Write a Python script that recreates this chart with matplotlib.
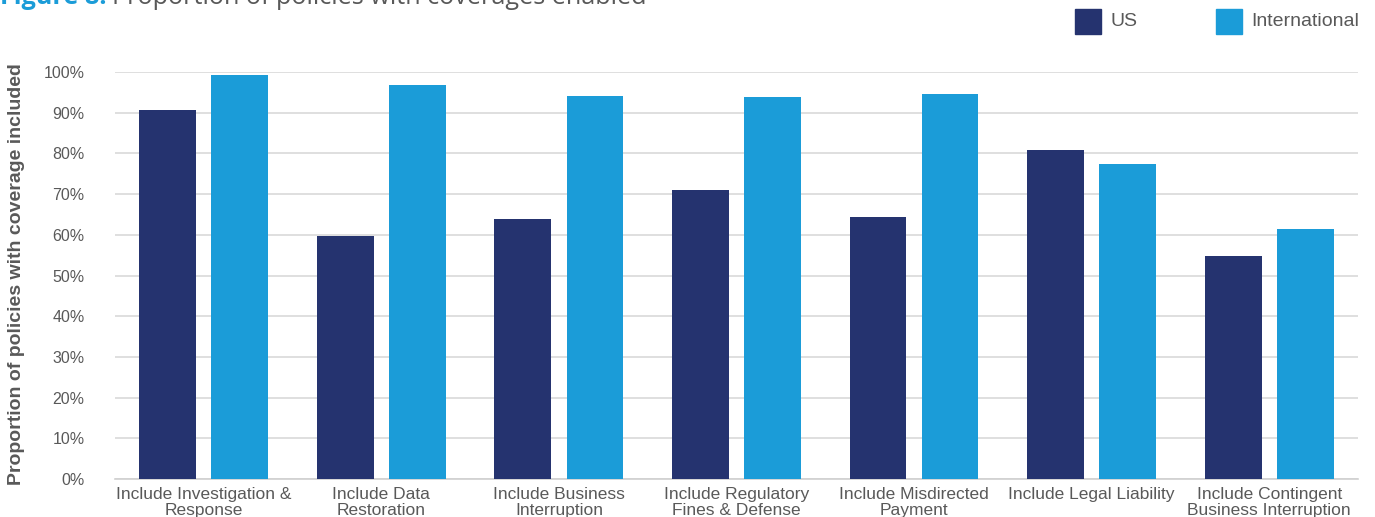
import matplotlib
matplotlib.use("Agg")
import matplotlib.pyplot as plt
import numpy as np

categories = [
    "Include Investigation &\nResponse",
    "Include Data\nRestoration",
    "Include Business\nInterruption",
    "Include Regulatory\nFines & Defense",
    "Include Misdirected\nPayment",
    "Include Legal Liability",
    "Include Contingent\nBusiness Interruption",
]
us_values = [90.6, 59.6, 63.9, 70.9, 64.3, 80.8, 54.8]
intl_values = [99.2, 96.8, 94.1, 93.9, 94.6, 77.4, 61.4]
series_names = ["US", "International"]
y_ticks = [0, 10, 20, 30, 40, 50, 60, 70, 80, 90, 100]

US_COLOR = "#25336f"
INTL_COLOR = "#1b9cd8"
TEXT_GRAY = "#595959"

plt.rcParams["font.family"] = ["Liberation Sans", "DejaVu Sans"]

fig = plt.figure(figsize=(13.75, 5.17), dpi=100)
ax = fig.add_axes([0.0836, 0.0735, 0.904, 0.7872])

x = np.arange(len(categories))
width = 0.32
offset = 0.203
ax.bar(x - offset, us_values, width, color=US_COLOR, zorder=3)
ax.bar(x + offset, intl_values, width, color=INTL_COLOR, zorder=3)

ax.set_xlim(-0.5, len(categories) - 0.5)
ax.set_ylim(0, 100)
ax.set_yticks(y_ticks)
ax.set_yticklabels([f"{v}%" for v in y_ticks])
ax.set_xticks(x)
ax.set_xticklabels(categories, linespacing=1.05)

ax.grid(axis="y", color="#d9d9d9", linewidth=1.2, zorder=0)
for s in ["top", "right", "left"]:
    ax.spines[s].set_visible(False)
ax.spines["bottom"].set_color("#d0d0d0")
ax.spines["bottom"].set_linewidth(1.2)
ax.tick_params(axis="y", length=0, pad=22, labelsize=11.5, labelcolor=TEXT_GRAY)
ax.tick_params(axis="x", length=0, pad=6, labelsize=12.5, labelcolor=TEXT_GRAY)

fig.text(0.012, 0.47, "Proportion of policies with coverage included",
         rotation=90, ha="center", va="center", fontsize=14,
         fontweight="bold", color=TEXT_GRAY)

# Title, partly above the top edge
t1 = fig.text(0.0, 0.9925, "Figure 8:", ha="left", va="baseline",
              fontsize=18.2, fontweight="bold", color=INTL_COLOR,
              family=["Open Sans", "DejaVu Sans"])
fig.canvas.draw()
bb = t1.get_window_extent()
fig.text(bb.x1 / fig.bbox.width + 0.004, 0.9925, "Proportion of policies with coverages enabled",
         ha="left", va="baseline", fontsize=18.2, color=TEXT_GRAY,
         family=["Open Sans", "DejaVu Sans"])

# Legend drawn as squares with labels
for sq_x, txt_x, col, name in [(0.7818, 0.8075, US_COLOR, series_names[0]),
                                (0.8843, 0.9100, INTL_COLOR, series_names[1])]:
    fig.patches.append(plt.Rectangle((sq_x, 0.934), 0.0189, 0.049,
                                     transform=fig.transFigure, color=col))
    fig.text(txt_x, 0.958, name, ha="left", va="center", fontsize=14, color=TEXT_GRAY)

fig.savefig("out.png", dpi=100)
